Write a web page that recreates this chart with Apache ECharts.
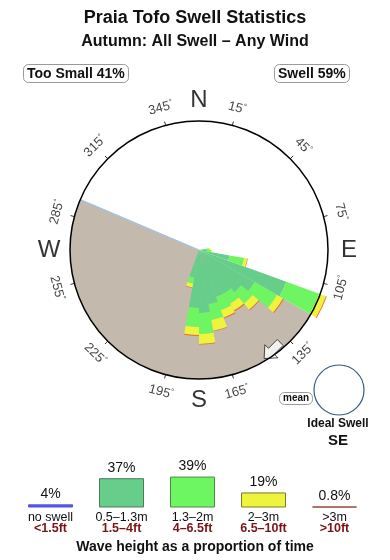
<!DOCTYPE html>
<html>
<head>
<meta charset="utf-8">
<script src="https://cdn.jsdelivr.net/npm/echarts@6/dist/echarts.min.js"></script>
<style>html,body{margin:0;padding:0;background:#fff}#c{width:390px;height:560px}</style>
</head>
<body>
<div id="c"></div>
<script>
// ---- data ----
const titleText = 'Praia Tofo Swell Statistics';
const subtitleText = 'Autumn: All Swell \u2013 Any Wind';
const tooSmallPct = 41;
const swellPct = 59;
// direction bins (centre bearing, 10° wide)
const dirCats = Array.from({length: 36}, (_, i) => String(i * 10 + 5));
const sectors = ['85', '95', '105', '115', '125', '135', '145', '155', '165', '175', '185', '195'];
// radial extents of each stacked layer (radius units, circle = 129)
const dark   = [6, 8, 31, 93, 64, 55, 50, 50, 55, 63, 58, 28];
const light  = [4, 4, 15, 35, 26, 15, 12, 14, 16, 21, 19, 6];
const yellow = [1.5, 1, 3, 7, 7, 8, 8, 8, 11, 10, 8, 4];
const big    = [0, 0, 0.6, 1, 1, 1, 1, 1, 0.6, 0.6, 1, 0.6];
const shadow = [120, 293];   // land shadow from/to bearing
const meanDir = 143;
const tickDeg = [15, 45, 75, 105, 135, 165, 195, 225, 255, 285, 315, 345];
const cardinals = [['N', 0], ['E', 90], ['S', 180], ['W', 270]];
const idealDir = 'SE';
// legend
const sizeM  = ['no swell', '0.5\u20131.3m', '1.3\u20132m', '2\u20133m', '>3m'];
const sizeFt = ['<1.5ft', '1.5\u20134ft', '4\u20136.5ft', '6.5\u201310ft', '>10ft'];
const legendPct = [4, 37, 39, 19, 0.8];

// ---- styles ----
const FONT = 'Liberation Sans, Arial, Helvetica, sans-serif';
const C_DARK = '#66cd8a', C_LIGHT = '#6ef562', C_YEL = '#eef33c', C_RED = '#e8702c', C_BLUE = '#5555dd', C_BROWN = '#8a4a3a';
const legendColors = [C_BLUE, C_DARK, C_LIGHT, C_YEL, C_BROWN];
const legendBorders = [C_BLUE, '#4f7a5c', '#4f8a45', '#7a7a30', C_BROWN];
const RMAX = 129;
const CX = 199, CY = 250;
const ARROW = 'path://M0,0 L0.7,-13.4 L4.2,-9.9 L12.7,-18.4 L18.4,-12.7 L9.9,-4.2 L13.4,-0.7 Z';

function fill(arr) {
  return dirCats.map(c => { const i = sectors.indexOf(c); return i < 0 ? 0 : arr[i]; });
}
function rotFor(d) {
  let t = d < 90 ? d : (d < 270 ? d - 180 : d - 360);
  return -t;
}
function layer(name, arr, color) {
  return {
    type: 'bar', name, coordinateSystem: 'polar', polarIndex: 0, stack: 'rose',
    data: fill(arr), barCategoryGap: '0%', itemStyle: {color}, clip: false, z: 3, silent: true
  };
}
const boxStyle = {borderColor: '#9a9a9a', borderWidth: 1, borderRadius: 5};

const chart = echarts.init(document.getElementById('c'), null, {renderer: 'canvas'});
const option = {
  animation: false,
  textStyle: {fontFamily: FONT},
  title: [
    {text: titleText, left: 'center', top: 9, padding: 0,
      textStyle: {fontSize: 18, fontWeight: 'bold', color: '#111', fontFamily: FONT}},
    {text: subtitleText, left: 'center', top: 34, padding: 0,
      textStyle: {fontSize: 16, fontWeight: 'bold', color: '#111', fontFamily: FONT}},
    Object.assign({text: 'Too Small ' + tooSmallPct + '%', left: 23, top: 64, padding: [2, 4, 1, 4],
      textStyle: {fontSize: 14, fontWeight: 'bold', color: '#111', lineHeight: 16, fontFamily: FONT}}, boxStyle),
    Object.assign({text: 'Swell ' + swellPct + '%', left: 274, top: 64, padding: [2, 4, 1, 4],
      textStyle: {fontSize: 14, fontWeight: 'bold', color: '#111', lineHeight: 16, fontFamily: FONT}}, boxStyle),
    Object.assign({text: 'mean', left: 279, top: 392, padding: [1, 4, 1, 4],
      textStyle: {fontSize: 10, fontWeight: 'bold', color: '#111', lineHeight: 11, fontFamily: FONT}}, boxStyle),
    {text: 'Ideal Swell', left: 338, textAlign: 'center', top: 418, padding: 0,
      textStyle: {fontSize: 12, fontWeight: 'bold', color: '#111', fontFamily: FONT}},
    {text: idealDir, left: 338, textAlign: 'center', top: 433, padding: 0,
      textStyle: {fontSize: 15, fontWeight: 'bold', color: '#111', fontFamily: FONT}},
    {text: 'Wave height as a proportion of time', left: 'center', top: 540, padding: 0,
      textStyle: {fontSize: 14, fontWeight: 'bold', color: '#111', fontFamily: FONT}}
  ],
  polar: [
    {center: [CX, CY], radius: RMAX},
    {center: [CX, CY], radius: RMAX}
  ],
  angleAxis: [
    {polarIndex: 0, type: 'category', data: dirCats, startAngle: 90, clockwise: true, boundaryGap: true, z: 10,
      axisLine: {show: true, lineStyle: {color: '#000', width: 1.5}},
      axisTick: {show: true, alignWithLabel: true, inside: false, length: 4,
        interval: (i) => i % 3 === 1, lineStyle: {color: '#333', width: 1}},
      axisLabel: {show: false}, splitLine: {show: false}, splitArea: {show: false}},
    {polarIndex: 1, type: 'value', min: 0, max: 360, startAngle: 90, clockwise: true, show: false,
      splitLine: {show: false}}
  ],
  radiusAxis: [
    {polarIndex: 0, type: 'value', min: 0, max: RMAX, show: false, splitLine: {show: false}},
    {polarIndex: 1, type: 'value', min: 0, max: RMAX, show: false, splitLine: {show: false}}
  ],
  grid: {left: 15, width: 355, bottom: 52.5, height: 31.7},
  xAxis: {type: 'category', data: sizeM, gridIndex: 0,
    axisLine: {show: false}, axisTick: {show: false},
    axisLabel: {margin: 5, interval: 0,
      formatter: (v, i) => '{a|' + v + '}\n{b|' + sizeFt[i] + '}',
      rich: {a: {fontSize: 12.5, color: '#111', lineHeight: 11, fontFamily: FONT},
             b: {fontSize: 12.5, fontWeight: 'bold', color: '#7a1414', lineHeight: 11, fontFamily: FONT}}}},
  yAxis: {type: 'value', min: 0, max: 40, show: false, gridIndex: 0},
  series: [
    {type: 'custom', coordinateSystem: 'polar', polarIndex: 1, z: 1, silent: true, clip: false,
      data: [shadow],
      renderItem: (params, api) => {
        const c = api.coord([0, 0]);
        const p = api.coord([RMAX, 0]);
        const r = Math.hypot(p[0] - c[0], p[1] - c[1]);
        const a0 = (api.value(0) - 90) * Math.PI / 180;
        const a1 = (api.value(1) - 90) * Math.PI / 180;
        return {type: 'sector', shape: {cx: c[0], cy: c[1], r0: 0, r, startAngle: a0, endAngle: a1, clockwise: true},
          style: {fill: '#c4b9ad'}};
      }},
    {type: 'line', coordinateSystem: 'polar', polarIndex: 1, z: 2, silent: true, symbol: 'none',
      data: [[0, shadow[1]], [RMAX, shadow[1]]], lineStyle: {color: '#9fc3ea', width: 1.2}},
    layer('0.5-1.3m', dark, C_DARK),
    layer('1.3-2m', light, C_LIGHT),
    layer('2-3m', yellow, C_YEL),
    layer('>3m', big, C_RED),
    {type: 'scatter', coordinateSystem: 'polar', polarIndex: 1, z: 4, silent: true, clip: false,
      data: [[124, meanDir]], symbol: ARROW, symbolSize: 19, symbolKeepAspect: true,
      itemStyle: {color: '#fff', borderColor: '#222', borderWidth: 1}},
    {type: 'scatter', coordinateSystem: 'polar', polarIndex: 1, z: 5, silent: true, clip: false,
      symbolSize: 1, itemStyle: {color: 'rgba(0,0,0,0)'},
      data: tickDeg.map(d => ({value: [147, d], name: String(d), label: {rotate: rotFor(d)}})),
      label: {show: true, position: 'inside', formatter: '{n|{b}}{d|\u00b0}',
        rich: {n: {fontSize: 13, color: '#111', fontFamily: FONT, lineHeight: 14},
               d: {fontSize: 8, color: '#111', fontFamily: FONT, verticalAlign: 'top', lineHeight: 14}}}},
    {type: 'scatter', coordinateSystem: 'polar', polarIndex: 1, z: 5, silent: true, clip: false,
      symbolSize: 1, itemStyle: {color: 'rgba(0,0,0,0)'},
      data: cardinals.map(c => ({value: [150, c[1]], name: c[0]})),
      label: {show: true, position: 'inside', formatter: '{b}', fontSize: 24, color: '#000', fontFamily: FONT}},
    {type: 'bar', coordinateSystem: 'cartesian2d', xAxisIndex: 0, yAxisIndex: 0, barWidth: 45, barMinHeight: 1,
      silent: true,
      data: legendPct.map((v, i) => ({value: v, itemStyle: {color: legendColors[i], borderColor: legendBorders[i], borderWidth: 1}})),
      label: {show: true, position: 'top', distance: 3, formatter: '{c}%', fontSize: 14, color: '#111', fontFamily: FONT}}
  ],
  graphic: [
    {type: 'circle', shape: {cx: 339, cy: 390, r: 25}, style: {fill: 'none', stroke: '#3b5a82', lineWidth: 1.2}, silent: true}
  ]
};
chart.setOption(option);
</script>
</body>
</html>
